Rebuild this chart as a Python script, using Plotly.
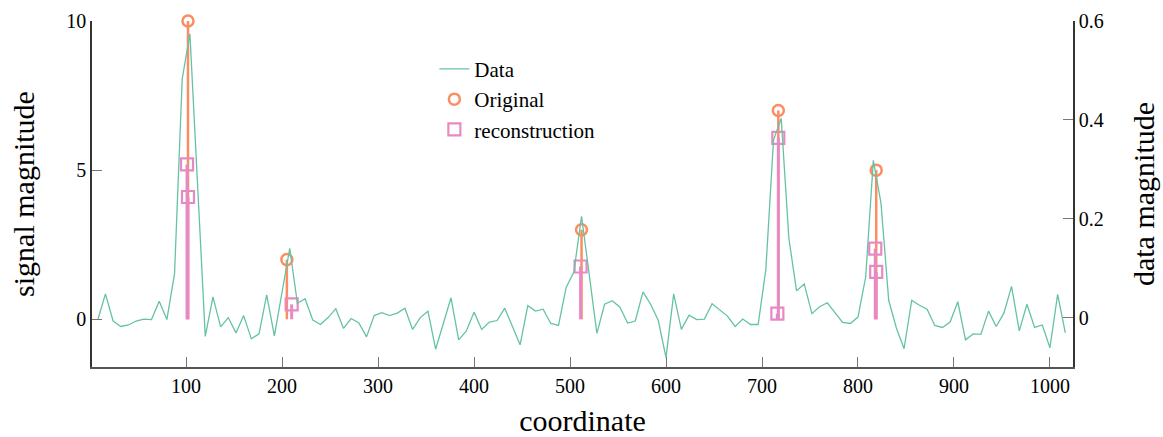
import plotly.graph_objects as go

# ---- data ----
data_x = list(range(8, 1017, 8))
data_y = [
    -0.005, 0.048, -0.007, -0.018, -0.015, -0.007, -0.003, -0.004, 0.033, -0.004,
    0.089, 0.483, 0.574, 0.27, -0.038, 0.042, -0.019, 0.000, -0.031, 0.004,
    -0.043, -0.033, 0.046, -0.037, 0.05, 0.14, 0.029, 0.038, -0.005, -0.014,
    0.000, 0.018, -0.022, -0.002, -0.011, -0.039, 0.004, 0.010, 0.004, 0.009,
    0.019, -0.024, 0.000, 0.013, -0.064, -0.012, 0.040, -0.045, -0.027, 0.011,
    -0.024, -0.009, -0.006, 0.019, -0.017, -0.055, 0.024, 0.013, 0.017, -0.012,
    -0.016, 0.061, 0.092, 0.205, 0.087, -0.032, 0.027, 0.034, 0.021, -0.011,
    -0.007, 0.052, 0.027, -0.006, -0.081, 0.048, -0.024, 0.005, -0.004, -0.003,
    0.028, 0.015, 0.003, -0.018, -0.003, -0.014, -0.014, 0.097, 0.359, 0.403,
    0.160, 0.054, 0.068, 0.008, 0.022, 0.030, 0.010, -0.010, -0.012, 0.001,
    0.082, 0.318, 0.231, 0.035, -0.021, -0.063, 0.035, 0.025, 0.017, -0.016,
    -0.020, -0.009, 0.032, -0.045, -0.033, -0.034, 0.013, -0.018, 0.009, 0.063,
    -0.027, 0.027, -0.020, -0.015, -0.061, 0.047, -0.031,
]
assert len(data_x) == len(data_y)

orig_x = [102, 205, 512, 717, 819]
orig_y = [10, 2, 3, 7, 5]

recon_x = [101, 102, 210, 511, 717, 716, 818, 819]
recon_y = [5.19, 4.10, 0.50, 1.77, 6.08, 0.19, 2.37, 1.59]

x_ticks = [100, 200, 300, 400, 500, 600, 700, 800, 900, 1000]
left_ticks = [0, 5, 10]
right_ticks = [0, 0.2, 0.4, 0.6]
right_tick_text = ["0", "0.2", "0.4", "0.6"]

C_DATA = "#66c2a5"
C_ORIG = "#fc8d62"
C_REC = "#e78ac3"
FONT = "Liberation Serif"


def stems(xs, ys):
    sx, sy = [], []
    for a, b in zip(xs, ys):
        sx += [a, a, None]
        sy += [0, b, None]
    return sx, sy


fig = go.Figure()

fig.add_trace(go.Scatter(
    x=data_x, y=data_y, mode="lines", name="Data", yaxis="y2",
    line=dict(color=C_DATA, width=1.3),
))

ox, oy = stems(orig_x, orig_y)
fig.add_trace(go.Scatter(x=ox, y=oy, mode="lines", showlegend=False,
                         line=dict(color=C_ORIG, width=2.5), hoverinfo="skip",
                         cliponaxis=False))
fig.add_trace(go.Scatter(
    x=orig_x, y=orig_y, mode="markers", name="Original", cliponaxis=False,
    marker=dict(symbol="circle-open", size=11, color=C_ORIG,
                line=dict(color=C_ORIG, width=2.5)),
))

rx, ry = stems(recon_x, recon_y)
fig.add_trace(go.Scatter(x=rx, y=ry, mode="lines", showlegend=False,
                         line=dict(color=C_REC, width=3), hoverinfo="skip",
                         cliponaxis=False))
fig.add_trace(go.Scatter(
    x=recon_x, y=recon_y, mode="markers", name="reconstruction", cliponaxis=False,
    marker=dict(symbol="square-open", size=12, color=C_REC,
                line=dict(color=C_REC, width=2.2)),
))

fig.update_layout(
    width=1163, height=437,
    margin=dict(l=92, r=90, t=21, b=70),
    paper_bgcolor="white", plot_bgcolor="white",
    font=dict(family=FONT, color="black", size=20),
    showlegend=True,
    legend=dict(x=0.349, y=0.92, xanchor="left", yanchor="top",
                bgcolor="rgba(0,0,0,0)", font=dict(size=21, family=FONT)),
    xaxis=dict(
        range=[2, 1024], tickvals=x_ticks, ticks="inside", ticklen=10,
        tickcolor="#777", tickwidth=1, showline=True, linecolor="#555",
        linewidth=1.5, showgrid=False, zeroline=False, automargin=False,
        tickfont=dict(size=20, family=FONT),
        title=dict(text="coordinate", font=dict(size=30, family=FONT), standoff=19),
    ),
    yaxis=dict(
        range=[-1.6, 10], tickvals=left_ticks, ticks="inside", ticklen=10,
        tickcolor="#777", tickwidth=1, showline=True, linecolor="#333",
        linewidth=1.5, showgrid=False, zeroline=False, automargin=False,
        tickfont=dict(size=20, family=FONT),
        title=dict(text="signal magnitude", font=dict(size=30, family=FONT), standoff=23),
    ),
    yaxis2=dict(
        range=[-0.1, 0.6], tickvals=right_ticks, ticktext=right_tick_text,
        overlaying="y", side="right", ticks="inside", ticklen=10,
        tickcolor="#777", tickwidth=1, showline=True, linecolor="#333",
        linewidth=1.5, showgrid=False, zeroline=False, automargin=False,
        tickfont=dict(size=20, family=FONT),
        title=dict(text="data magnitude", font=dict(size=30, family=FONT), standoff=30),
    ),
)

fig.write_html("out.html", config={"displayModeBar": False},
               post_script="document.body.style.margin='0';")
